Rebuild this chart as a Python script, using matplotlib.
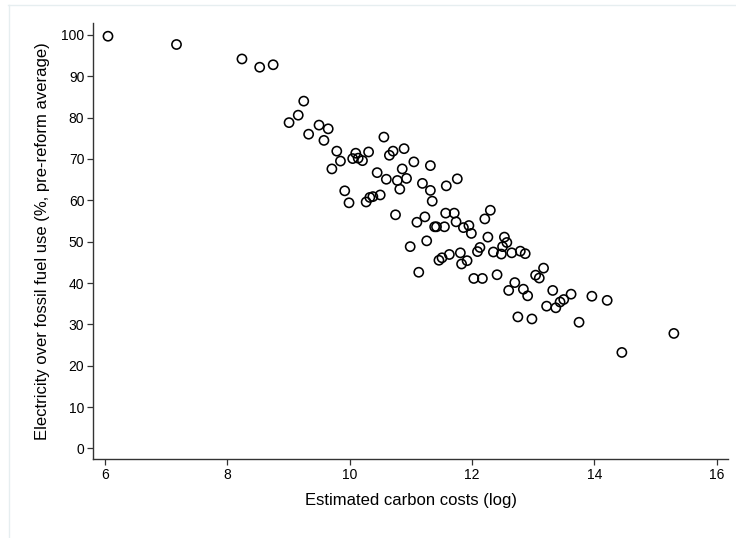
import matplotlib
matplotlib.use("Agg")
import matplotlib.pyplot as plt
from matplotlib.lines import Line2D

plt.rcParams['font.family'] = ['Liberation Sans', 'DejaVu Sans']

carbon_costs_log = [
    6.05, 7.17, 8.24, 8.53, 8.75, 9.25, 9.16, 9.01, 9.33, 9.50,
    9.65, 9.58, 10.56, 9.79, 10.10, 10.31, 10.05, 10.14, 10.21, 9.85,
    9.71, 10.65, 10.71, 10.89, 11.05, 11.32, 10.86, 10.45, 10.60, 10.78,
    10.93, 10.82, 11.19, 11.32, 11.35, 11.58, 11.76, 9.92, 9.99, 10.27,
    10.33, 10.38, 10.50, 10.75, 11.10, 11.23, 11.39, 11.42, 11.55, 11.57,
    11.71, 11.74, 11.86, 11.95, 11.99, 12.21, 12.30, 12.26, 10.99, 11.26,
    11.13, 11.46, 11.51, 11.63, 11.81, 11.83, 11.92, 12.09, 12.13, 12.03,
    12.17, 12.41, 12.35, 12.48, 12.53, 12.57, 12.50, 12.65, 12.79, 12.87,
    13.17, 13.04, 13.10, 12.70, 12.60, 12.84, 12.91, 13.32, 13.22, 13.37,
    13.44, 13.50, 13.62, 13.96, 14.21, 12.75, 12.98, 13.75, 14.45, 15.30,
]
electricity_share = [
    99.7, 97.7, 94.2, 92.2, 92.8, 84.0, 80.6, 78.8, 76.0, 78.2,
    77.3, 74.5, 75.3, 71.9, 71.4, 71.7, 70.1, 70.2, 69.6, 69.5,
    67.6, 70.9, 71.9, 72.5, 69.3, 68.4, 67.6, 66.7, 65.1, 64.8,
    65.3, 62.7, 64.1, 62.4, 59.8, 63.5, 65.2, 62.3, 59.4, 59.6,
    60.7, 60.9, 61.3, 56.5, 54.7, 56.0, 53.6, 53.6, 53.6, 56.9,
    56.9, 54.8, 53.4, 53.9, 52.0, 55.5, 57.6, 51.1, 48.8, 50.2,
    42.6, 45.5, 46.1, 46.9, 47.3, 44.6, 45.4, 47.6, 48.6, 41.1,
    41.1, 42.0, 47.5, 47.0, 51.1, 49.8, 48.8, 47.3, 47.7, 47.1,
    43.6, 41.9, 41.2, 40.1, 38.2, 38.5, 36.9, 38.2, 34.4, 34.0,
    35.4, 36.0, 37.3, 36.8, 35.8, 31.8, 31.3, 30.5, 23.2, 27.8,
]
x_ticks = [6, 8, 10, 12, 14, 16]
y_ticks = [0, 10, 20, 30, 40, 50, 60, 70, 80, 90, 100]

W, H = 736, 538
fig = plt.figure(figsize=(W / 100, H / 100), dpi=100)
fig.patch.set_facecolor('white')

# faint outer frame (top and left edges only)
frame_color = '#e6eef0'
fig.add_artist(Line2D([8 / W, 1.0], [1 - 4.5 / H, 1 - 4.5 / H],
                      transform=fig.transFigure, color=frame_color, linewidth=1.0))
fig.add_artist(Line2D([8.5 / W, 8.5 / W], [0.0, 1 - 4.5 / H],
                      transform=fig.transFigure, color=frame_color, linewidth=1.0))

ax = fig.add_axes([93.3 / W, 1 - 459.3 / H, (728 - 93.3) / W, (459.3 - 23) / H])
ax.scatter(carbon_costs_log, electricity_share, s=44, facecolors='none',
           edgecolors='black', linewidths=1.15, zorder=3)

ax.set_xlim(5.81, 16.185)
ax.set_ylim(-2.65, 102.9)
ax.set_xticks(x_ticks)
ax.set_yticks(y_ticks)
ax.set_xticklabels([str(t) for t in x_ticks])
ax.set_yticklabels([str(t) for t in y_ticks])

for side in ['top', 'right']:
    ax.spines[side].set_visible(False)
for side in ['left', 'bottom']:
    ax.spines[side].set_color('#333333')
    ax.spines[side].set_linewidth(1.0)

ax.tick_params(axis='both', direction='out', length=4, width=0.9,
               color='#333333', labelsize=10, labelcolor='black', pad=2.5)

ax.set_xlabel('Estimated carbon costs (log)', fontsize=12, labelpad=8)
ax.set_ylabel('Electricity over fossil fuel use (%, pre-reform average)',
              fontsize=12, labelpad=8)

fig.savefig('out.png', dpi=100, facecolor='white')
